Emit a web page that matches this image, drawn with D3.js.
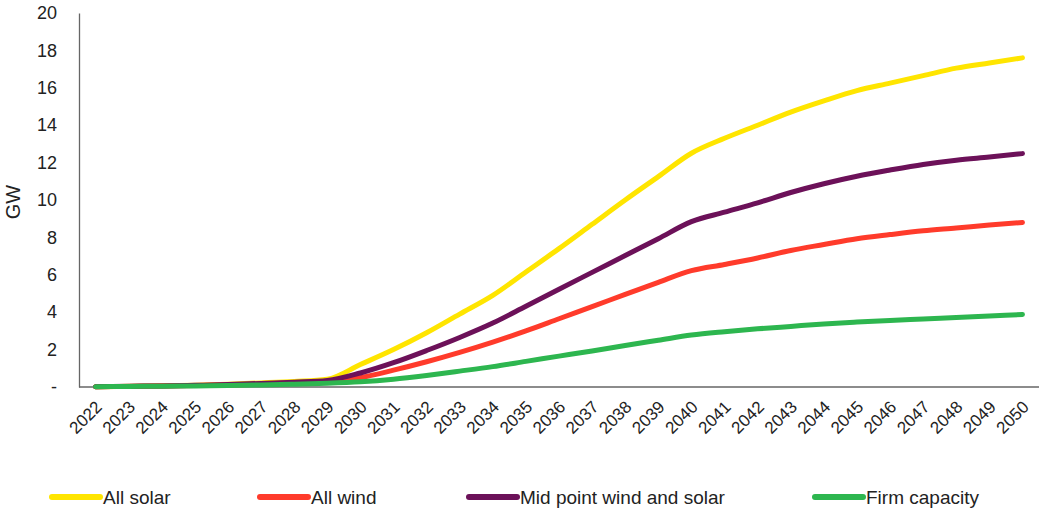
<!DOCTYPE html>
<html><head><meta charset="utf-8">
<script src="https://cdn.jsdelivr.net/npm/d3@7"></script>
<style>body{margin:0;background:#fff}svg{display:block}text{font-family:"Liberation Sans",Arial,sans-serif;fill:#222}</style>
</head><body><svg id="c" width="1039" height="508"></svg>
<script>
const years = d3.range(2022, 2051).map(String);
const yTicks = [0,2,4,6,8,10,12,14,16,18,20];
const yTickLabels = ["-","2","4","6","8","10","12","14","16","18","20"];
const allSolar = [0.02,0.04,0.07,0.10,0.15,0.22,0.30,0.42,1.2,2.0,2.9,3.9,4.9,6.15,7.4,8.7,10.0,11.25,12.5,13.3,14.0,14.7,15.3,15.85,16.25,16.65,17.05,17.33,17.6];
const allWind = [0.02,0.03,0.05,0.08,0.11,0.16,0.22,0.28,0.5,0.9,1.35,1.85,2.4,3.0,3.65,4.3,4.95,5.6,6.22,6.55,6.9,7.3,7.62,7.93,8.15,8.35,8.5,8.66,8.8];
const midPoint = [0.02,0.04,0.06,0.09,0.13,0.19,0.26,0.35,0.75,1.3,1.95,2.65,3.42,4.32,5.23,6.13,7.03,7.93,8.84,9.35,9.85,10.4,10.87,11.27,11.6,11.9,12.13,12.3,12.48];
const firmCapacity = [0.02,0.03,0.04,0.06,0.08,0.11,0.15,0.2,0.28,0.42,0.62,0.85,1.09,1.37,1.65,1.93,2.22,2.5,2.78,2.96,3.11,3.24,3.37,3.47,3.56,3.64,3.72,3.8,3.88];
const seriesNames = ["All solar","All wind","Mid point wind and solar","Firm capacity"];
const seriesColors = ["#ffe500","#ff3b2b","#6c1159","#2db64f"];
const seriesValues = [allSolar, allWind, midPoint, firmCapacity];

const svg = d3.select("#c");
const mL = 79, mR = 1039, mT = 13, mB = 387;
const x = d3.scalePoint().domain(years).range([mL, mR]).padding(0.5);
const y = d3.scaleLinear().domain([0,20]).range([mB, mT]);

// y axis
const ya = svg.append("g").attr("transform",`translate(${mL},0)`)
  .call(d3.axisLeft(y).tickValues(yTicks).tickSize(0).tickPadding(22)
    .tickFormat((d,i)=>yTickLabels[i]));
ya.select(".domain").attr("stroke","#666").attr("stroke-width",1.3);
ya.selectAll("text").style("font-size","18px").attr("fill","#222");

// x axis
const xa = svg.append("g").attr("transform",`translate(0,${mB})`)
  .call(d3.axisBottom(x).tickSize(0).tickPadding(0));
xa.select(".domain").attr("stroke","#666").attr("stroke-width",1.3)
  .attr("d",`M${mL},0H${mR}`);
xa.selectAll("text").style("font-size","17px").attr("fill","#222")
  .attr("text-anchor","end").attr("dy",null).attr("y",0)
  .attr("transform","translate(7,21) rotate(-45)");

svg.append("text").attr("transform","translate(20,202) rotate(-90)")
  .attr("text-anchor","middle").style("font-size","20px").text("GW");

const line = d3.line().x((d,i)=>x(years[i])).y(d=>y(d)).curve(d3.curveMonotoneX);
seriesValues.forEach((vals,k)=>{
  svg.append("path").datum(vals).attr("d",line).attr("fill","none")
    .attr("stroke",seriesColors[k]).attr("stroke-width",5)
    .attr("stroke-linecap","round").attr("stroke-linejoin","round");
});

// legend
const legX = [49, 257, 466, 812];
seriesNames.forEach((n,k)=>{
  const g = svg.append("g").attr("transform",`translate(${legX[k]},497)`);
  g.append("line").attr("x1",3).attr("x2",51).attr("stroke",seriesColors[k])
    .attr("stroke-width",6).attr("stroke-linecap","round");
  g.append("text").attr("x",54).attr("y",6.5).style("font-size","19px").text(n);
});
</script></body></html>
